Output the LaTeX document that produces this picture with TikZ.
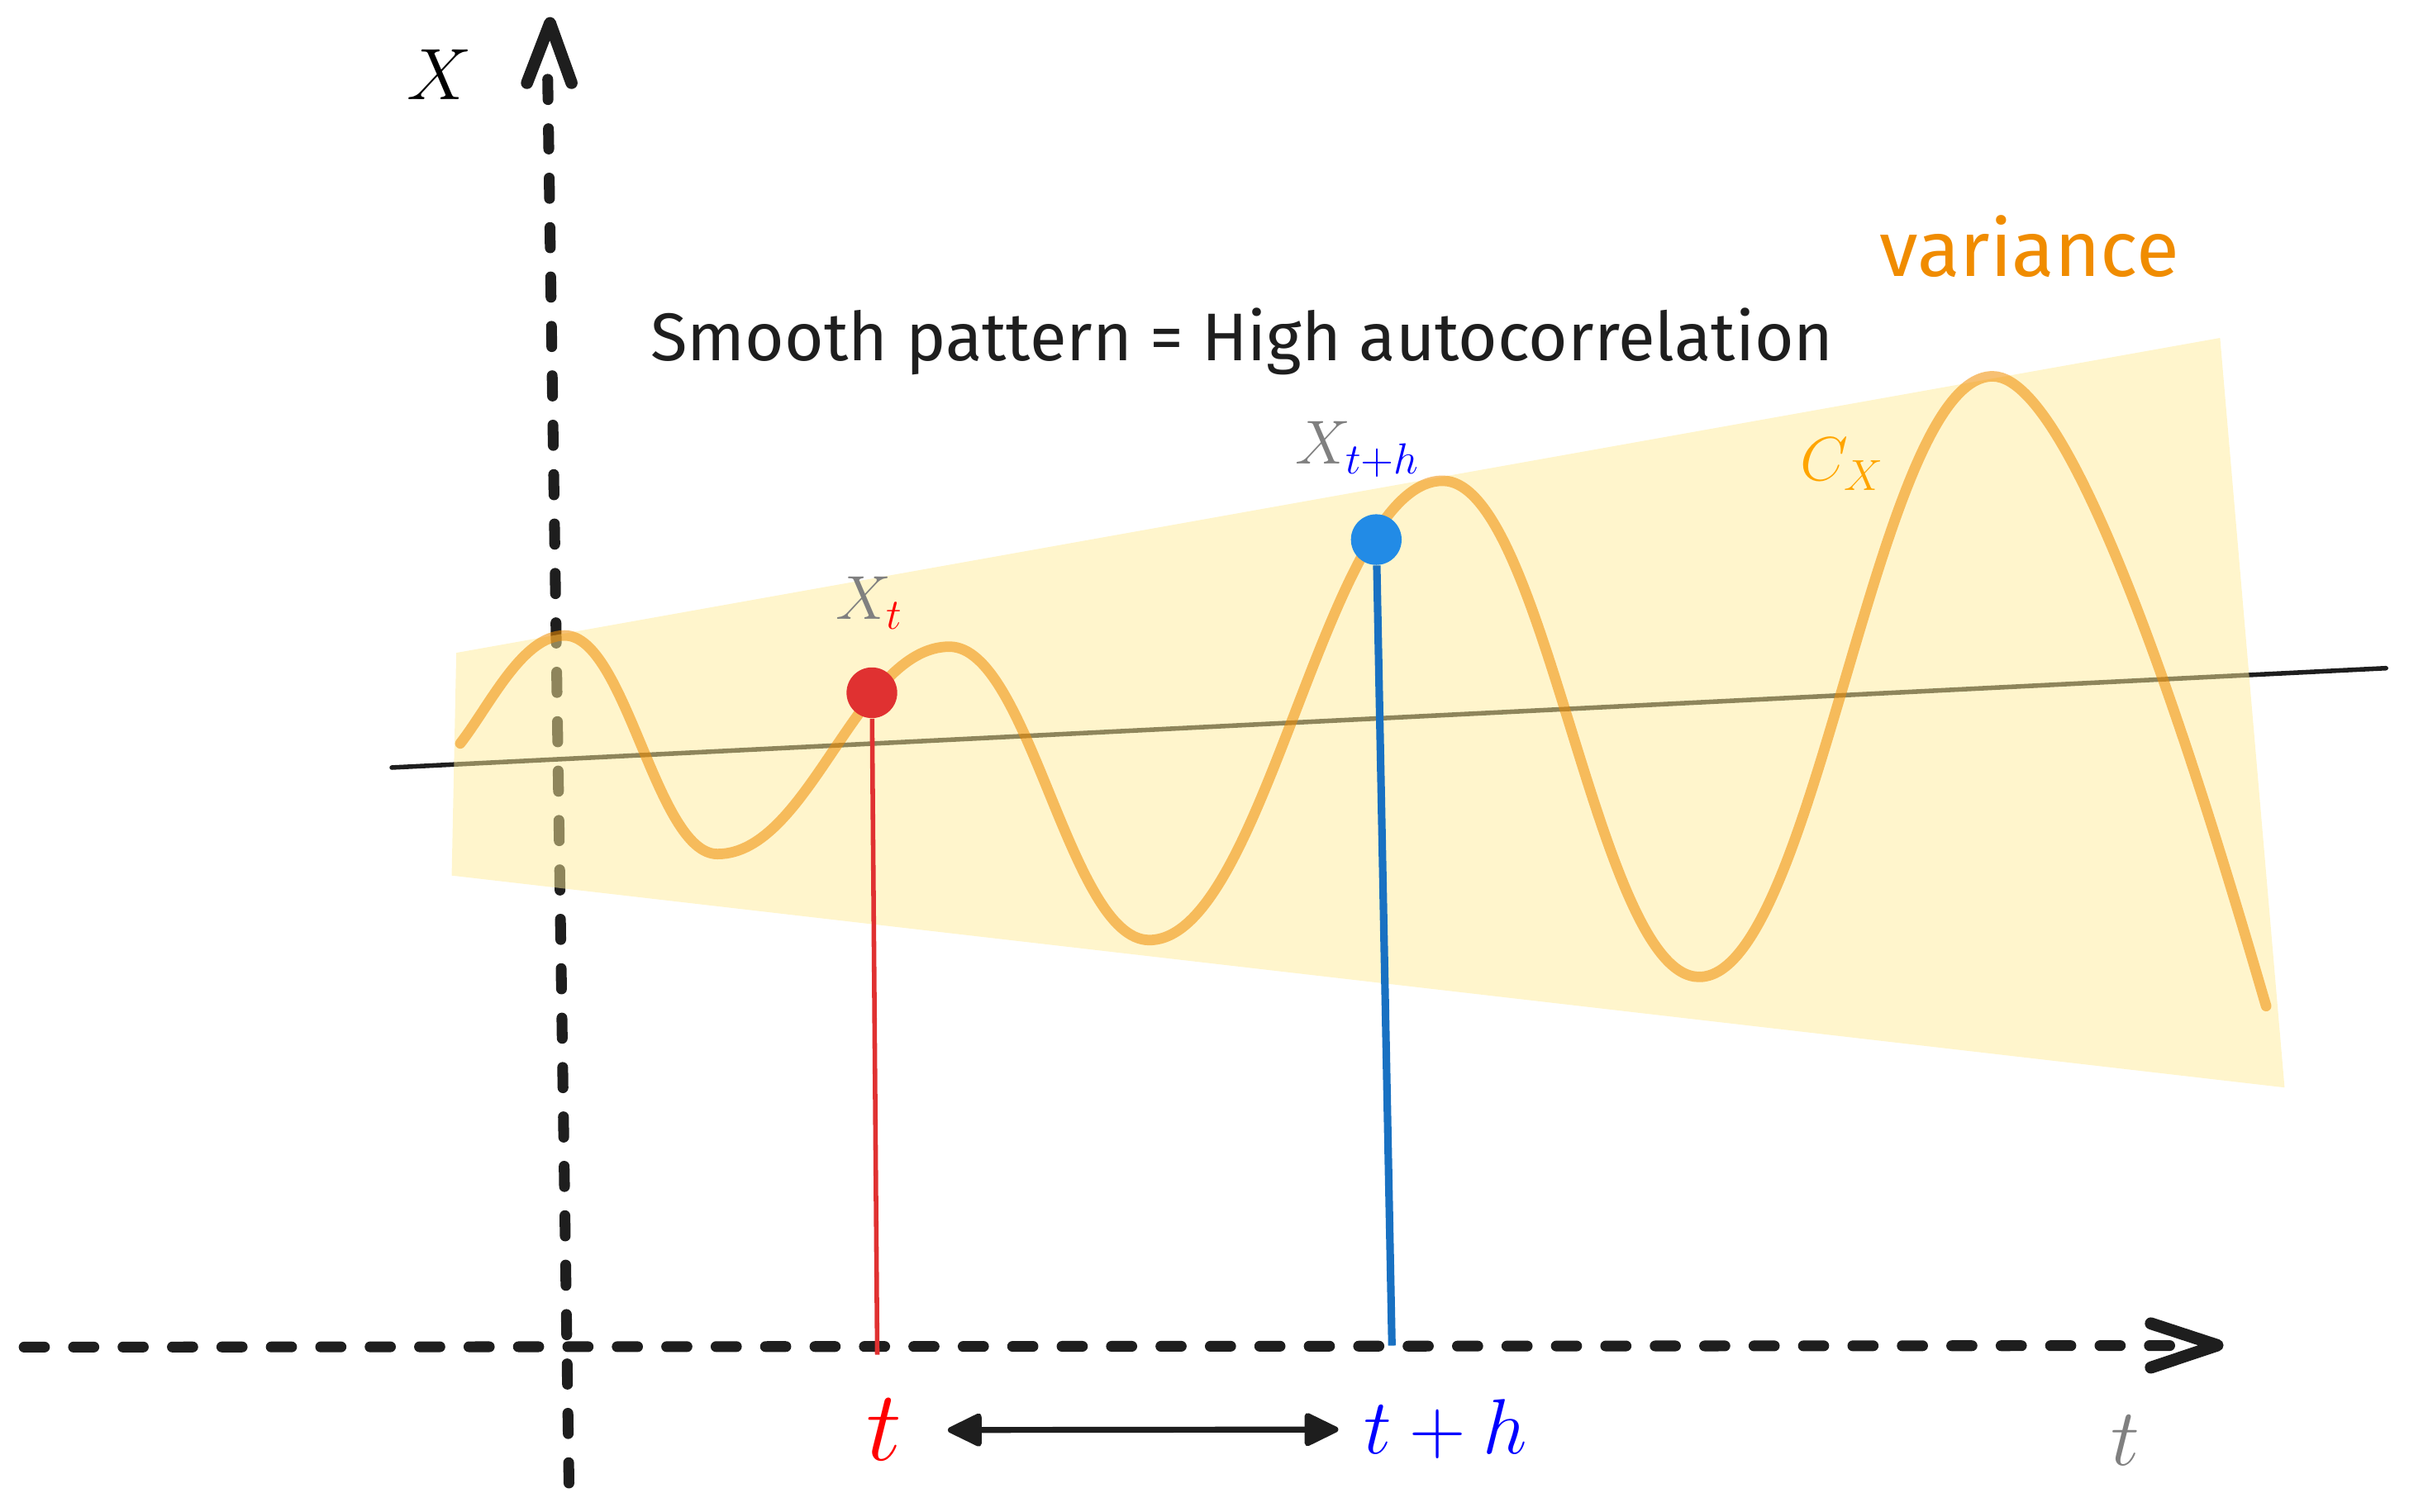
\RequirePackage{fix-cm}
\documentclass[tikz,border=0pt]{standalone}
\usepackage{fontspec}
\newfontfamily\handfont{Fira Sans}
\usetikzlibrary{arrows.meta}
\definecolor{ink}{HTML}{1E1E1E}
\definecolor{bandfill}{HTML}{FFEC99}
\definecolor{curveor}{HTML}{F08C00}
\definecolor{varor}{HTML}{F08C00}
\definecolor{cxor}{RGB}{255,165,0}
\definecolor{dotred}{HTML}{E03131}
\definecolor{dotblue}{HTML}{228BE6}
\definecolor{lineblue}{HTML}{1971C2}
\begin{document}
\begin{tikzpicture}[x=0.02cm,y=-0.02cm,
  axisline/.style={draw=ink, line width=4pt, line cap=round, dash pattern=on 7.54pt off 10.77pt},
  chevron/.style={draw=ink, line width=4.5pt, line cap=round, line join=round},
  lbl/.style={inner sep=0pt, outer sep=0pt},
  dot/.style={circle, inner sep=0pt, minimum size=0.66cm},
  dblarrow/.style={draw=ink, line width=2.2pt, {Triangle[length=14pt,width=13pt,round]}-{Triangle[length=14pt,width=13pt,round]}}
]
\useasboundingbox (0,0) rectangle (1568,984);

% coordinates
\coordinate (vtop) at (356.5,51.6);
\coordinate (vbot) at (370.4,970);
\coordinate (vtip) at (358,15);
\coordinate (vl) at (343,54);
\coordinate (vr) at (372,54);
\coordinate (hl) at (15.7,877);
\coordinate (hr) at (1428,876);
\coordinate (htip) at (1443.3,875.8);
\coordinate (hu) at (1400,861.6);
\coordinate (hd) at (1400,890.3);
\coordinate (trendA) at (255,499.7);
\coordinate (trendB) at (1553,435);
\coordinate (rfoot) at (571,882);
\coordinate (bfoot) at (906,876);

% trend line
\draw[ink, line width=1.7pt, line cap=round] (trendA) -- (trendB);

% axes
\draw[axisline] (vtop) -- (vbot);
\draw[chevron] (vl) -- (vtip) -- (vr);
\draw[axisline] (hl) -- (hr);
\draw[chevron] (hu) -- (htip) -- (hd);

% variance band
\fill[bandfill, fill opacity=0.5] (297,425) -- (1445,220) -- (1487,708) -- (294,570) -- cycle;

% series curve
\draw[curveor, draw opacity=0.55, line width=3.9pt, line cap=round, line join=round]
  (299.6,484) .. controls (319,459) and (340,413.7) .. (367.5,413.7)
  .. controls (407.5,413.7) and (427,556) .. (467,556)
  .. controls (527,556) and (558,421) .. (618,421)
  .. controls (670,421) and (696,612) .. (748,612)
  .. controls (824,612) and (863,313) .. (939,313)
  .. controls (1006,313) and (1039,636) .. (1106,636)
  .. controls (1182,636) and (1221,245) .. (1297,245)
  .. controls (1357,245) and (1450,570) .. (1475,655);

% points
\node[dot, fill=dotred] (rdot) at (567.5,451) {};
\node[dot, fill=dotblue] (bdot) at (895.8,351.3) {};
\draw[dotred, line width=1.7pt] (rdot) -- (rfoot);
\draw[lineblue, line width=2.8pt] (bdot) -- (bfoot);

% labels
\node[lbl] (xlab) at (286,48.5) {\fontsize{27}{30}\selectfont $X$};
\node[lbl, anchor=base west, text=gray] (xt) at (544,403.4) {\fontsize{23}{26}\selectfont $X_{\color{red}t}$};
\node[lbl, anchor=base west, text=gray] (xth) at (843,302.2) {\fontsize{23}{26}\selectfont $X_{\color{blue}t+h}$};
\node[lbl, anchor=base west, text=cxor] (cx) at (1172,313) {\fontsize{23}{26}\selectfont $C_X$};

\node[lbl, anchor=base, text=ink] (title) at (808.5,235) {\handfont\fontsize{25}{29}\selectfont Smooth pattern = High autocorrelation};
\node[lbl, anchor=base, text=varor] (var) at (1321,180) {\handfont\fontsize{29}{32}\selectfont variance};

\node[lbl, anchor=base, text=red] (redt) at (575.6,951) {\fontsize{37}{40}\selectfont $t$};
\node[lbl, anchor=base, text=blue] (tph) at (941,946.7) {\fontsize{29}{32}\selectfont $t+h$};
\node[lbl, anchor=base, text=gray] (tax) at (1383.5,953.9) {\fontsize{30}{33}\selectfont $t$};

\draw[dblarrow, shorten <=17pt, shorten >=9.6pt] (redt.east) -- (tph.west);
\end{tikzpicture}
\end{document}
